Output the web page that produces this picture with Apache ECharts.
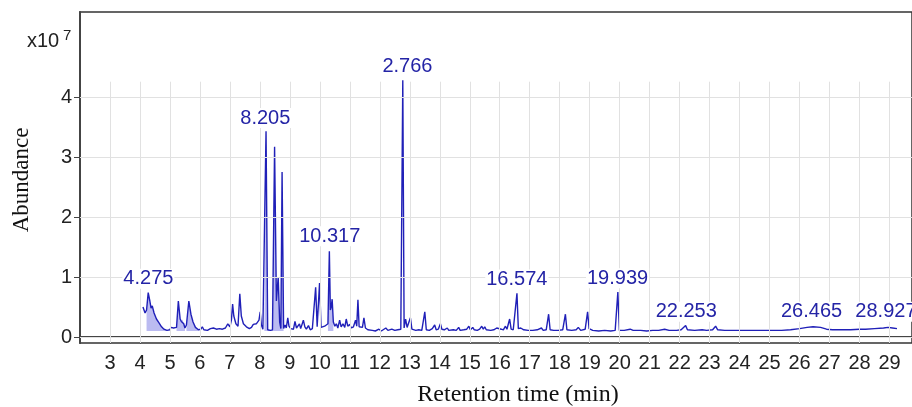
<!DOCTYPE html>
<html><head><meta charset="utf-8">
<script src="https://cdn.jsdelivr.net/npm/echarts@6/dist/echarts.min.js"></script>
<style>html,body{margin:0;padding:0;background:#fff}#c{width:912px;height:407px}</style>
</head><body><div id="c"></div>
<script>
// Retention time (min) of trace points
const rt = [4.10,4.17,4.22,4.275,4.33,4.37,4.41,4.47,4.55,4.63,4.72,4.80,4.90,5.00,5.03,5.07,5.12,5.17,5.22,5.28,5.34,5.38,5.42,5.46,5.50,5.55,5.63,5.70,5.77,5.85,5.95,6.03,6.08,6.13,6.25,6.35,6.45,6.55,6.65,6.75,6.85,6.93,7.00,7.05,7.09,7.13,7.20,7.27,7.33,7.38,7.45,7.55,7.65,7.72,7.78,7.83,7.88,7.93,7.97,8.01,8.05,8.10,8.15,8.205,8.26,8.35,8.42,8.49,8.55,8.61,8.66,8.70,8.74,8.79,8.84,8.88,8.93,8.97,9.03,9.08,9.12,9.17,9.22,9.27,9.32,9.36,9.41,9.45,9.50,9.55,9.62,9.68,9.75,9.80,9.86,9.91,9.95,9.99,10.04,10.10,10.16,10.22,10.27,10.317,10.35,10.38,10.41,10.45,10.50,10.55,10.60,10.66,10.71,10.77,10.83,10.88,10.93,11.00,11.05,11.12,11.19,11.23,11.27,11.31,11.37,11.42,11.47,11.52,11.60,11.75,11.85,11.97,12.05,12.20,12.27,12.40,12.50,12.60,12.70,12.766,12.81,12.86,12.91,12.96,13.02,13.07,13.20,13.30,13.40,13.50,13.55,13.65,13.75,13.83,13.88,13.95,14.02,14.07,14.15,14.25,14.30,14.45,14.55,14.63,14.68,14.80,14.90,14.97,15.02,15.10,15.15,15.25,15.33,15.40,15.45,15.50,15.55,15.70,15.80,15.90,15.95,16.05,16.12,16.19,16.24,16.33,16.38,16.45,16.574,16.62,16.70,16.80,16.95,17.10,17.25,17.39,17.45,17.55,17.63,17.68,17.80,17.95,18.10,18.19,18.24,18.40,18.55,18.62,18.70,18.85,18.93,18.98,19.10,19.30,19.50,19.70,19.85,19.939,19.99,20.15,20.35,20.45,20.70,20.90,21.10,21.30,21.50,21.65,21.90,22.05,22.20,22.26,22.50,22.75,22.90,23.10,23.20,23.27,23.50,23.80,24.00,24.30,24.60,25.00,25.40,25.70,26.00,26.25,26.45,26.70,26.90,27.10,27.40,27.70,28.00,28.20,28.50,28.80,28.95,29.10,29.25];
// Abundance (x10^7) of trace points
const abund = [0.50,0.40,0.45,0.74,0.60,0.48,0.52,0.40,0.30,0.24,0.17,0.13,0.11,0.12,0.16,0.13,0.15,0.13,0.16,0.60,0.30,0.26,0.29,0.22,0.15,0.20,0.60,0.38,0.25,0.16,0.12,0.13,0.17,0.12,0.11,0.14,0.15,0.13,0.14,0.13,0.15,0.22,0.17,0.28,0.55,0.35,0.22,0.18,0.72,0.35,0.22,0.17,0.14,0.16,0.21,0.18,0.22,0.19,0.28,0.42,0.20,0.13,0.12,3.43,0.12,0.11,0.12,3.17,0.60,1.00,0.25,0.14,2.75,0.14,0.20,0.15,0.32,0.18,0.14,0.17,0.13,0.26,0.15,0.13,0.22,0.14,0.16,0.28,0.17,0.13,0.19,0.12,0.14,0.15,0.83,0.17,0.18,0.90,0.16,0.14,0.18,0.15,0.22,1.43,0.45,0.50,0.63,0.25,0.18,0.22,0.15,0.28,0.17,0.22,0.16,0.30,0.18,0.21,0.15,0.17,0.28,0.18,0.62,0.17,0.14,0.16,0.32,0.15,0.12,0.11,0.10,0.13,0.10,0.15,0.11,0.13,0.11,0.12,0.13,4.28,0.15,0.30,0.16,0.14,0.32,0.13,0.11,0.12,0.11,0.42,0.12,0.11,0.14,0.20,0.12,0.13,0.22,0.13,0.12,0.15,0.11,0.12,0.11,0.16,0.11,0.12,0.13,0.18,0.12,0.16,0.12,0.11,0.13,0.18,0.13,0.17,0.12,0.11,0.12,0.15,0.12,0.13,0.12,0.18,0.13,0.30,0.13,0.12,0.73,0.14,0.15,0.12,0.11,0.11,0.12,0.15,0.11,0.12,0.38,0.12,0.11,0.11,0.12,0.38,0.12,0.11,0.12,0.16,0.11,0.13,0.42,0.14,0.11,0.10,0.11,0.10,0.11,0.75,0.11,0.11,0.13,0.11,0.11,0.10,0.11,0.11,0.13,0.11,0.11,0.12,0.19,0.12,0.11,0.12,0.11,0.12,0.18,0.12,0.11,0.11,0.11,0.11,0.11,0.11,0.11,0.12,0.14,0.16,0.17,0.16,0.13,0.12,0.12,0.12,0.13,0.13,0.14,0.15,0.16,0.15,0.14];

const xTicks = [2,3,4,5,6,7,8,9,10,11,12,13,14,15,16,17,18,19,20,21,22,23,24,25,26,27,28,29];
const xTickLabels = [3,4,5,6,7,8,9,10,11,12,13,14,15,16,17,18,19,20,21,22,23,24,25,26,27,28,29];
const yTicks = [0,1,2,3,4];

// Peak annotations
const peakLabels = ['4.275','8.205','10.317','2.766','16.574','19.939','22.253','26.465','28.927'];
const labelAnchorRt = [4.28,8.18,10.33,12.92,16.57,19.93,22.22,26.40,28.88];
const labelAnchorAb = [0.97,3.65,1.68,4.51,0.96,0.98,0.42,0.42,0.42];

// Integrated (shaded) regions
const fillStart = [4.22,5.22,5.55,8.15,10.27];
const fillEnd = [4.90,5.50,5.95,8.79,10.45];
const fillBase = 0.1;

const trace = rt.map((t, i) => [t, abund[i]]);
const sans = "'Liberation Sans',Arial,sans-serif";
const serif = "'Liberation Serif','Times New Roman',serif";
const lineColor = '#2020b8';
const labelColor = '#2424a6';

const gridMarks = [
  ...yTicks.map(v => ({ yAxis: v })),
  ...xTicks.filter(t => t > 2).map(t => [{ coord: [t, -0.1] }, { coord: [t, 4.255] }])
];

const chart = echarts.init(document.getElementById('c'), null, { renderer: 'canvas' });
chart.setOption({
  animation: false,
  grid: { left: 80, right: -2, top: 12, bottom: 64, show: true, borderColor: '#333', borderWidth: 1.5, backgroundColor: 'transparent' },
  xAxis: {
    type: 'value', min: 2, max: 29.75,
    axisLine: { lineStyle: { color: '#444', width: 2 } },
    axisTick: { customValues: xTicks, length: 7, lineStyle: { color: '#444', width: 1 } },
    axisLabel: { customValues: xTickLabels, fontSize: 20, color: '#222', margin: 10, fontFamily: sans },
    splitLine: { show: false }
  },
  yAxis: {
    type: 'value', min: -0.1, max: 5.4167,
    axisLine: { show: true, lineStyle: { color: '#444', width: 2 } },
    axisTick: { show: true, customValues: yTicks, length: 6, lineStyle: { color: '#444', width: 1 } },
    axisLabel: { customValues: yTicks, fontSize: 20, color: '#222', margin: 8, fontFamily: sans },
    splitLine: { show: false }
  },
  series: [
    {
      type: 'line', data: [], z: 1, silent: true,
      markLine: { silent: true, symbol: 'none', animation: false, label: { show: false },
        lineStyle: { color: '#e1e1e1', width: 1, type: 'solid' }, emphasis: { disabled: true }, data: gridMarks }
    },
    {
      type: 'custom', z: 2, silent: true,
      data: fillStart.map((s, i) => [s, fillEnd[i]]),
      encode: { x: [0, 1] },
      renderItem: function (params, api) {
        const s = api.value(0), e = api.value(1);
        const pts = [api.coord([s, fillBase])];
        trace.forEach(p => { if (p[0] >= s && p[0] <= e) pts.push(api.coord(p)); });
        pts.push(api.coord([e, fillBase]));
        return { type: 'polygon', shape: { points: pts }, style: { fill: 'rgba(120,120,228,0.5)' } };
      }
    },
    {
      type: 'line', data: trace, z: 3, showSymbol: false, silent: true,
      lineStyle: { color: lineColor, width: 1.4 }
    },
    {
      type: 'custom', z: 5, silent: true,
      data: peakLabels.map((s, i) => [labelAnchorRt[i], labelAnchorAb[i]]),
      encode: { x: 0, y: 1 },
      renderItem: function (params, api) {
        const c = api.coord([api.value(0), api.value(1)]);
        return {
          type: 'text', x: c[0], y: c[1],
          style: { text: peakLabels[params.dataIndex], fill: labelColor, fontSize: 20, fontFamily: sans,
            align: 'center', verticalAlign: 'middle', backgroundColor: '#fff', padding: [0, 1] }
        };
      }
    }
  ],
  graphic: [
    { type: 'text', left: 27, top: 31, style: { text: 'x10', fontSize: 20, fontFamily: sans, fill: '#222' } },
    { type: 'text', left: 63, top: 28, style: { text: '7', fontSize: 15, fontFamily: sans, fill: '#222' } },
    { type: 'text', x: 22, y: 180, rotation: Math.PI / 2, style: { text: 'Abundance', fontSize: 23, fontFamily: serif, fill: '#111', align: 'center', verticalAlign: 'middle' } },
    { type: 'text', x: 518, y: 395, style: { text: 'Retention time (min)', fontSize: 24, fontFamily: serif, fill: '#111', align: 'center', verticalAlign: 'middle' } }
  ]
});
</script>
</body></html>
